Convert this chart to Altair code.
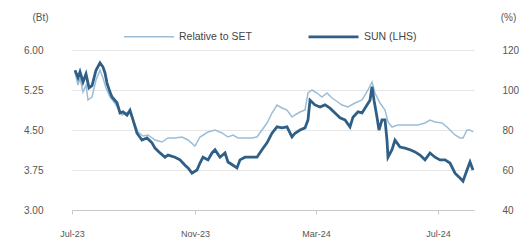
import altair as alt
import pandas as pd

# SUN share price (Bt, left axis)
sun_dates = ["2023-07-04","2023-07-07","2023-07-09","2023-07-12","2023-07-15","2023-07-18","2023-07-21","2023-07-25",
             "2023-07-29","2023-08-01","2023-08-03","2023-08-05","2023-08-08","2023-08-10","2023-08-15","2023-08-18",
             "2023-08-21","2023-08-25","2023-08-28","2023-08-31","2023-09-04","2023-09-09","2023-09-14","2023-09-19",
             "2023-09-22","2023-09-27","2023-10-02","2023-10-05","2023-10-12","2023-10-17","2023-10-22","2023-10-25",
             "2023-10-29","2023-11-03","2023-11-06","2023-11-09","2023-11-14","2023-11-18","2023-11-21","2023-11-26",
             "2023-12-01","2023-12-04","2023-12-09","2023-12-13","2023-12-16","2023-12-21","2023-12-28","2024-01-02",
             "2024-01-07","2024-01-12","2024-01-17","2024-01-22","2024-01-27","2024-02-01","2024-02-06","2024-02-09",
             "2024-02-14","2024-02-19","2024-02-22","2024-02-24","2024-02-29","2024-03-05","2024-03-10","2024-03-15",
             "2024-03-20","2024-03-25","2024-03-30","2024-04-04","2024-04-07","2024-04-12","2024-04-16","2024-04-21",
             "2024-04-24","2024-04-26","2024-04-28","2024-05-01","2024-05-03","2024-05-06","2024-05-09","2024-05-11",
             "2024-05-12","2024-05-16","2024-05-19","2024-05-24","2024-05-29","2024-06-03","2024-06-08","2024-06-13",
             "2024-06-18","2024-06-23","2024-06-28","2024-07-03","2024-07-08","2024-07-13","2024-07-18","2024-07-23",
             "2024-07-26","2024-07-30","2024-08-02","2024-08-05"]
sun_values = [5.62,5.48,5.59,5.40,5.55,5.29,5.33,5.62,
              5.76,5.68,5.57,5.38,5.21,5.12,5.01,4.82,
              4.84,4.78,4.87,4.69,4.44,4.31,4.35,4.26,
              4.16,4.07,3.99,4.03,3.99,3.94,3.84,3.79,
              3.69,3.75,3.88,3.99,3.94,4.07,4.13,3.99,
              4.07,3.90,3.84,3.79,3.94,3.99,3.99,3.99,
              4.13,4.26,4.44,4.56,4.54,4.56,4.37,4.44,
              4.50,4.54,4.69,5.06,4.97,4.93,4.97,4.91,
              4.82,4.73,4.69,4.56,4.74,4.84,4.82,4.97,
              5.06,5.31,5.06,4.74,4.50,4.69,4.69,4.31,
              3.99,4.13,4.31,4.18,4.16,4.13,4.09,4.03,
              3.94,4.07,3.99,3.94,3.94,3.88,3.69,3.60,
              3.54,3.75,3.90,3.75]

# Relative to SET (%, right axis)
rel_dates = ["2023-07-04","2023-07-07","2023-07-09","2023-07-12","2023-07-15","2023-07-17","2023-07-21","2023-07-25",
             "2023-07-29","2023-08-01","2023-08-04","2023-08-08","2023-08-12","2023-08-16","2023-08-20","2023-08-24",
             "2023-08-28","2023-09-01","2023-09-05","2023-09-10","2023-09-15","2023-09-22","2023-09-29","2023-10-05",
             "2023-10-12","2023-10-19","2023-10-25","2023-11-01","2023-11-06","2023-11-14","2023-11-21","2023-11-28",
             "2023-12-04","2023-12-09","2023-12-14","2023-12-21","2023-12-28","2024-01-02","2024-01-07","2024-01-12",
             "2024-01-17","2024-01-22","2024-01-27","2024-02-01","2024-02-06","2024-02-09","2024-02-14","2024-02-19",
             "2024-02-22","2024-02-26","2024-03-02","2024-03-07","2024-03-12","2024-03-17","2024-03-20","2024-03-27",
             "2024-04-02","2024-04-09","2024-04-16","2024-04-22","2024-04-26","2024-04-29","2024-05-04","2024-05-09",
             "2024-05-12","2024-05-16","2024-05-22","2024-05-29","2024-06-05","2024-06-11","2024-06-18","2024-06-23",
             "2024-06-28","2024-07-05","2024-07-11","2024-07-18","2024-07-23","2024-07-26","2024-07-30","2024-08-02",
             "2024-08-05"]
rel_values = [109,102.5,106,99,102.5,95,96.5,105,
              110,106,101,96.5,94,91,87.5,88.5,
              89,84,79,77,77.5,75,74,76,
              76,76.5,75,72,76.5,79,80,78.5,
              76.5,77.5,76,76,76,76.5,80,83.5,
              88.5,92.5,91,90,86.5,87.5,89,90,
              98.5,100,98.5,96.5,98.5,96,95,92.5,
              91.5,93.5,95,100,104,98.5,93.5,90,
              84,81.5,82.5,82.5,82.5,82.5,83.5,85,
              84,83.5,81,77.5,76,76,80,80,
              79]

series_names = ["Relative to SET", "SUN (LHS)"]
series_colors = ["#9cbdd6", "#2f5f86"]
series_widths = [1.5, 2.8]
left_ticks = [3.00, 3.75, 4.50, 5.25, 6.00]
right_ticks = [40, 60, 80, 100, 120]

sun_df = pd.DataFrame({"date": sun_dates, "value": sun_values, "series": series_names[1]})
rel_df = pd.DataFrame({"date": rel_dates, "value": rel_values, "series": series_names[0]})

FONT = "Liberation Sans"
x_enc = alt.X(
    "date:T",
    scale=alt.Scale(domain=[alt.DateTime(year=2023, month=7, date=1), alt.DateTime(year=2024, month=8, date=6)]),
    axis=alt.Axis(
        title=None, format="%b-%y", grid=False,
        values=[alt.DateTime(year=2023, month=7, date=1), alt.DateTime(year=2023, month=11, date=1),
                alt.DateTime(year=2024, month=3, date=1), alt.DateTime(year=2024, month=7, date=1)],
        domainColor="#c8c8c8", tickColor="#c8c8c8", tickSize=4, labelPadding=15,
        labelFontSize=9, labelColor="#555555", labelFont=FONT, labelAlign="center",
    ),
)

legend_def = alt.Legend(
    title=None, orient="none", direction="horizontal", legendX=51, legendY=-40,
    symbolType="stroke", symbolSize=2500,
    labelFontSize=10.5, labelFont=FONT, labelColor="#444444", columnPadding=50, labelOffset=4,
)
color_enc = alt.Color("series:N", scale=alt.Scale(domain=series_names, range=series_colors), legend=legend_def)
width_enc = alt.StrokeWidth("series:N", scale=alt.Scale(domain=series_names, range=series_widths), legend=legend_def)

rel_line = alt.Chart(rel_df).mark_line().encode(
    x=x_enc,
    y=alt.Y("value:Q", scale=alt.Scale(domain=[40, 120]),
            axis=alt.Axis(orient="right", values=right_ticks, grid=False, domain=False, ticks=False,
                          labelPadding=28, labelFontSize=10, labelColor="#555555", labelFont=FONT,
                          title="(%)", titleAngle=0, titleX=34, titleY=-33, titleAlign="center",
                          titleBaseline="middle", titleFontSize=10, titleFontWeight="normal",
                          titleColor="#555555", titleFont=FONT)),
    color=color_enc,
    strokeWidth=width_enc,
)

sun_line = alt.Chart(sun_df).mark_line().encode(
    x=x_enc,
    y=alt.Y("value:Q", scale=alt.Scale(domain=[3, 6]),
            axis=alt.Axis(orient="left", values=left_ticks, format=".2f", grid=True, gridColor="#e6e6e6",
                          domain=False, ticks=False, labelPadding=29, labelFontSize=10,
                          labelColor="#555555", labelFont=FONT,
                          title="(Bt)", titleAngle=0, titleX=-32, titleY=-33, titleAlign="center",
                          titleBaseline="middle", titleFontSize=10, titleFontWeight="normal",
                          titleColor="#555555", titleFont=FONT)),
    color=color_enc,
    strokeWidth=width_enc,
)

chart = alt.layer(rel_line, sun_line).resolve_scale(y="independent").properties(
    width=402, height=160,
    padding={"left": 64, "top": 42, "right": 45, "bottom": 36},
    autosize="none",
    background="white",
).configure_view(stroke=None)

chart.save("out.html", embed_options={"renderer": "svg", "actions": False})
